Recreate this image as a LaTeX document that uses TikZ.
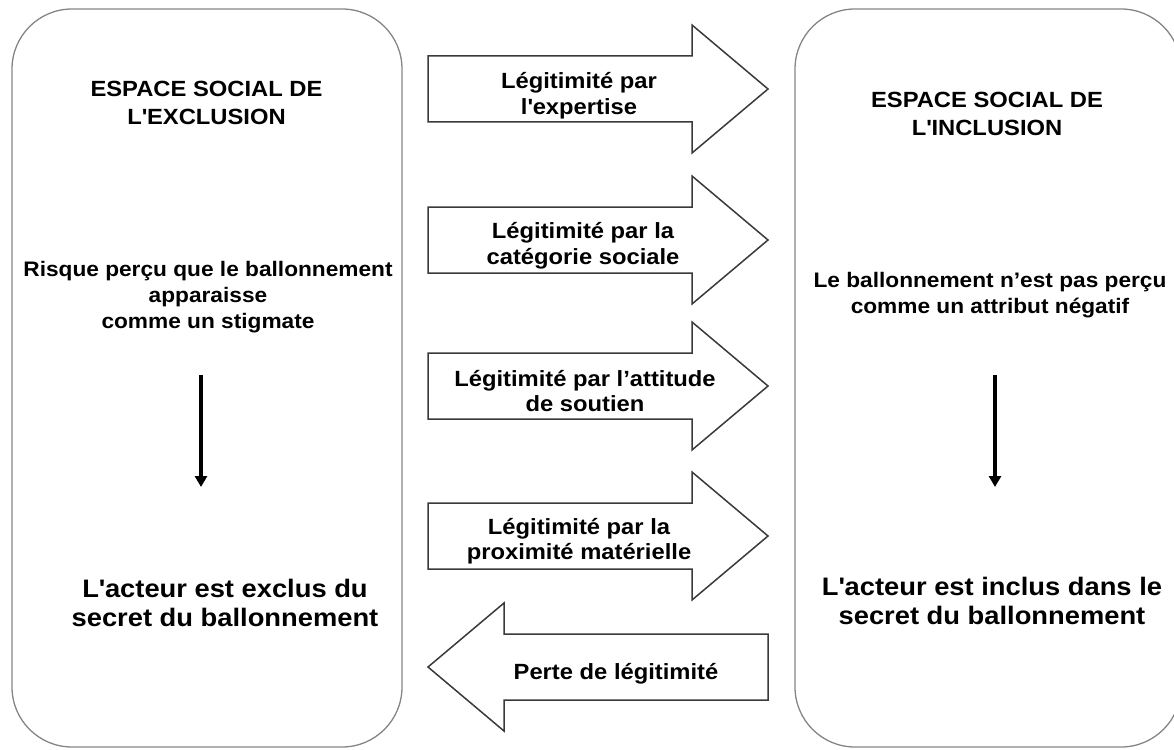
\documentclass[tikz,border=0pt]{standalone}
\usepackage{fontspec}
\setmainfont{Liberation Sans}[FakeStretch=1.08]
\usetikzlibrary{arrows.meta}
\definecolor{boxgray}{HTML}{858585}
\definecolor{arrowgray}{HTML}{3A3A3A}
\newcommand{\sq}{\textquotesingle}
\tikzset{
  spacebox/.style={draw=boxgray, line width=1.3pt, rounded corners=60pt, minimum width=390pt, minimum height=738pt, inner sep=0pt, outer sep=0pt},
  blockarrow/.style={draw=arrowgray, line width=1.5pt, fill=white, line join=miter},
  titletxt/.style={font=\bfseries\fontsize{22}{28}\selectfont, align=center},
  desctxt/.style={font=\bfseries\fontsize{21}{26}\selectfont, align=center},
  resulttxt/.style={font=\bfseries\fontsize{25.3}{29.5}\selectfont, align=center},
  arrowtxt/.style={font=\bfseries\fontsize{22}{25.5}\selectfont, align=center},
  downarrow/.style={line width=3.3pt, -{Triangle[width=12pt,length=11pt]}},
  rarrow/.pic={\draw[blockarrow] (-170,-33) -- (94,-33) -- (94,-64) -- (170,0) -- (94,64) -- (94,33) -- (-170,33) -- cycle;}
}
\begin{document}
\begin{tikzpicture}[x=1pt,y=-1pt]
\useasboundingbox (0,0) rectangle (1174,749);
\begin{scope}
\clip (0,0) rectangle (1174,749);
% spaces
\node[spacebox] (excl) at (207,378) {};
\node[spacebox, minimum width=386pt] (incl) at (988,378) {};
\end{scope}

\node[titletxt] (exclT) at (206.5,102.5) {ESPACE SOCIAL DE\\L\sq EXCLUSION};
\node[titletxt] (inclT) at (987,114) {ESPACE SOCIAL DE\\L\sq INCLUSION};

\node[desctxt] (exclD) at (208,297) {Risque perçu que le ballonnement\\apparaisse\\comme un stigmate};
\node[desctxt] (inclD) at (990,295) {Le ballonnement n’est pas perçu\\comme un attribut négatif};

\node[resulttxt] (exclR) at (225,603) {L\sq acteur est exclus du\\secret du ballonnement};
\node[resulttxt] (inclR) at (992,601) {L\sq acteur est inclus dans le\\secret du ballonnement};

\coordinate (ldA) at (201,375);
\coordinate (ldB) at (201,487);
\coordinate (rdA) at (995,375);
\coordinate (rdB) at (995,487);
\draw[downarrow] (ldA) -- (ldB);
\draw[downarrow] (rdA) -- (rdB);

% block arrows
\pic at (598,89) {rarrow};
\pic at (598,240) {rarrow};
\pic at (598,386) {rarrow};
\pic at (598,536) {rarrow};
\pic[xscale=-1] at (598,667) {rarrow};

\node[arrowtxt] (a1) at (579,95.5) {Légitimité par\\l\sq expertise};
\node[arrowtxt] (a2) at (583,246) {Légitimité par la\\catégorie sociale};
\node[arrowtxt] (a3) at (585,391) {Légitimité par l’attitude\\de soutien};
\node[arrowtxt] (a4) at (579,541) {Légitimité par la\\proximité matérielle};
\node[arrowtxt] (a5) at (616,673.5) {Perte de légitimité};
\end{tikzpicture}
\end{document}
